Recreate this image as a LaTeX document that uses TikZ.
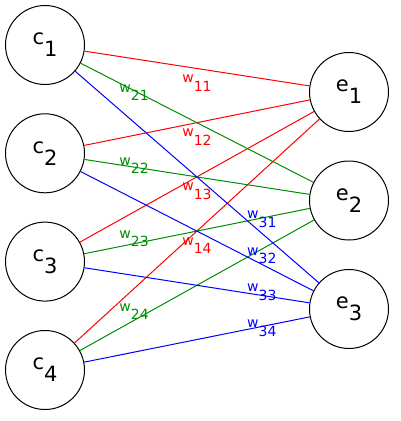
\documentclass[tikz,border=0pt]{standalone}
\usepackage{fontspec}
\setmainfont{DejaVu Sans}
\usetikzlibrary{calc}
\newcommand{\unitname}[2]{#1\raisebox{-12pt}{#2}}
\newcommand{\wname}[1]{w\raisebox{-8.5pt}{#1}}
\colorlet{wgreen}{green!55!black}
\begin{document}
\begin{tikzpicture}[x=1pt,y=-1pt,
    unit/.style={circle,draw,line width=1pt,minimum size=79pt,inner sep=0pt,
      font=\fontsize{21}{21}\selectfont},
    wlabel/.style={inner sep=0pt,font=\fontsize{14}{14}\selectfont}]
  \useasboundingbox (0,0) rectangle (400,421);
  \draw
    (45,45) node[unit] (c1){\unitname{c}{1}}
    (45,153.3) node[unit] (c2){\unitname{c}{2}}
    (45,261.6) node[unit] (c3){\unitname{c}{3}}
    (45,370) node[unit] (c4){\unitname{c}{4}}
    (349,92) node[unit] (e1){\unitname{e}{1}}
    (349,200.5) node[unit] (e2){\unitname{e}{2}}
    (349,309) node[unit] (e3){\unitname{e}{3}};
  \begin{scope}[red,line width=1pt]
    \draw (c1) to (e1);
    \draw (c2) to (e1);
    \draw (c3) to (e1);
    \draw (c4) to (e1);
  \end{scope}
  \begin{scope}[wgreen,line width=1pt]
    \draw (c1) to (e2);
    \draw (c2) to (e2);
    \draw (c3) to (e2);
    \draw (c4) to (e2);
  \end{scope}
  \begin{scope}[blue,line width=1pt]
    \draw (c1) to (e3);
    \draw (c2) to (e3);
    \draw (c3) to (e3);
    \draw (c4) to (e3);
  \end{scope}
  % weights
  \node[wlabel,red] (w11) at ($(c1)!0.5!(e1)+(0,14.5)$) {\wname{11}};
  \node[wlabel,red] (w12) at ($(c2)!0.5!(e1)+(0,14.5)$) {\wname{12}};
  \node[wlabel,red] (w13) at ($(c3)!0.5!(e1)+(0,14.5)$) {\wname{13}};
  \node[wlabel,red] (w14) at ($(c4)!0.5!(e1)+(0,14.5)$) {\wname{14}};
  \node[wlabel,wgreen] (w21) at ($(c1)!0.326!(e2)+(-10,-3)$) {\wname{21}};
  \node[wlabel,wgreen] (w22) at ($(c2)!0.326!(e2)+(-10,-3)$) {\wname{22}};
  \node[wlabel,wgreen] (w23) at ($(c3)!0.326!(e2)+(-10,-3)$) {\wname{23}};
  \node[wlabel,wgreen] (w24) at ($(c4)!0.326!(e2)+(-10,-3)$) {\wname{24}};
  \node[wlabel,blue] (w31) at ($(c1)!0.664!(e3)+(15,-1)$) {\wname{31}};
  \node[wlabel,blue] (w32) at ($(c2)!0.664!(e3)+(15,-1)$) {\wname{32}};
  \node[wlabel,blue] (w33) at ($(c3)!0.664!(e3)+(15,-1)$) {\wname{33}};
  \node[wlabel,blue] (w34) at ($(c4)!0.664!(e3)+(15,-1)$) {\wname{34}};
\end{tikzpicture}
\end{document}
